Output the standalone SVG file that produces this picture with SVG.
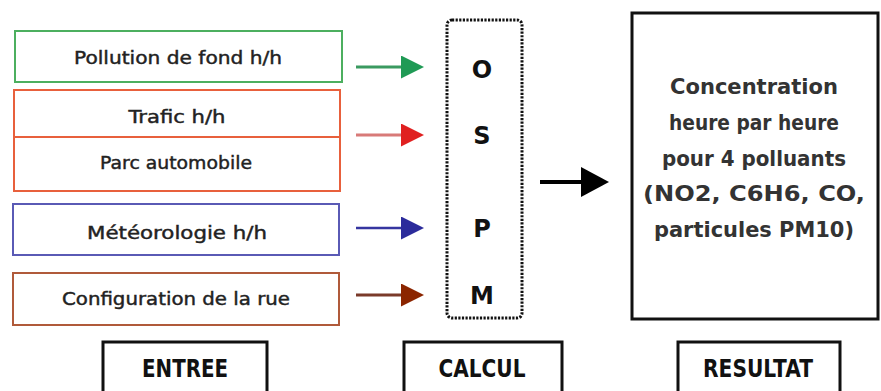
<svg xmlns="http://www.w3.org/2000/svg" width="881" height="391" viewBox="0 0 881 391">
<style>
.bg{fill:#ffffff}
.in{fill:#ffffff;stroke-width:2}
.t{font-family:"DejaVu Sans",sans-serif;font-size:18px;fill:#222;stroke:#222;stroke-width:0.45;text-anchor:middle}
.lbl{font-family:"DejaVu Sans",sans-serif;font-weight:bold;font-size:25px;fill:#111;text-anchor:middle}
.let{font-family:"DejaVu Sans",sans-serif;font-weight:bold;font-size:24px;fill:#111;text-anchor:middle}
.res{font-family:"DejaVu Sans",sans-serif;font-weight:bold;font-size:21px;fill:#333;text-anchor:middle}
.box{fill:#ffffff;stroke:#111;stroke-width:3}
</style>
<defs>
<marker id="hg" viewBox="0 0 10 10" refX="0" refY="5" markerWidth="23" markerHeight="23" markerUnits="userSpaceOnUse" orient="auto"><path d="M0,0 L10,5 L0,10 z" fill="#1f9a55"/></marker>
<marker id="hr" viewBox="0 0 10 10" refX="0" refY="5" markerWidth="23" markerHeight="23" markerUnits="userSpaceOnUse" orient="auto"><path d="M0,0 L10,5 L0,10 z" fill="#e02020"/></marker>
<marker id="hb" viewBox="0 0 10 10" refX="0" refY="5" markerWidth="23" markerHeight="23" markerUnits="userSpaceOnUse" orient="auto"><path d="M0,0 L10,5 L0,10 z" fill="#2b2b9b"/></marker>
<marker id="hn" viewBox="0 0 10 10" refX="0" refY="5" markerWidth="23" markerHeight="23" markerUnits="userSpaceOnUse" orient="auto"><path d="M0,0 L10,5 L0,10 z" fill="#8b2500"/></marker>
<marker id="hk" viewBox="0 0 10 10" refX="0" refY="5" markerWidth="28" markerHeight="30" markerUnits="userSpaceOnUse" orient="auto" preserveAspectRatio="none"><path d="M0,0 L10,5 L0,10 z" fill="#000"/></marker>
</defs>
<rect class="bg" x="0" y="0" width="881" height="391"/>

<g id="pollution">
<rect class="in" x="15" y="31" width="327" height="51" stroke="#4caf5f"/>
<text class="t" x="178" y="64" textLength="208" lengthAdjust="spacingAndGlyphs">Pollution  de fond h/h</text>
</g>
<g id="trafic">
<rect class="in" x="14" y="90" width="326" height="101" stroke="#e8603c"/>
<line x1="14" y1="137" x2="340" y2="137" stroke="#e8603c" stroke-width="2"/>
<text class="t" x="177" y="123" textLength="97" lengthAdjust="spacingAndGlyphs">Trafic h/h</text>
<text class="t" x="176" y="169" textLength="152" lengthAdjust="spacingAndGlyphs">Parc automobile</text>
</g>
<g id="meteo">
<rect class="in" x="13" y="204" width="326" height="51" stroke="#5a5ab5"/>
<text class="t" x="177" y="239" textLength="180" lengthAdjust="spacingAndGlyphs">Météorologie  h/h</text>
</g>
<g id="config">
<rect class="in" x="13" y="273" width="326" height="52" stroke="#b05a3a"/>
<text class="t" x="176" y="305" textLength="228" lengthAdjust="spacingAndGlyphs">Configuration  de la rue</text>
</g>

<g id="osrm">
<rect x="447" y="20" width="75" height="298" rx="5" fill="none" stroke="#111" stroke-width="3" stroke-dasharray="2.2,1.4"/>
<text class="let" x="482" y="78">O</text>
<text class="let" x="482" y="144">S</text>
<text class="let" x="482" y="237">P</text>
<text class="let" x="482" y="304">M</text>
</g>

<g id="resultat">
<rect x="632" y="13" width="246" height="306" fill="#fff" stroke="#111" stroke-width="3"/>
<text class="res" x="754" y="94" textLength="168" lengthAdjust="spacingAndGlyphs">Concentration</text>
<text class="res" x="754" y="130" textLength="170" lengthAdjust="spacingAndGlyphs">heure par heure</text>
<text class="res" x="754" y="166" textLength="184" lengthAdjust="spacingAndGlyphs">pour 4 polluants</text>
<text class="res" x="754" y="201" textLength="222" lengthAdjust="spacingAndGlyphs">(NO2, C6H6, CO,</text>
<text class="res" x="754" y="237" textLength="200" lengthAdjust="spacingAndGlyphs">particules PM10)</text>
</g>

<g id="entree">
<rect class="box" x="103" y="342" width="164" height="60"/>
<text class="lbl" x="185" y="377" textLength="86" lengthAdjust="spacingAndGlyphs">ENTREE</text>
</g>
<g id="calcul">
<rect class="box" x="404" y="342" width="158" height="60"/>
<text class="lbl" x="482" y="377" textLength="87" lengthAdjust="spacingAndGlyphs">CALCUL</text>
</g>
<g id="resultat-label">
<rect class="box" x="678" y="342" width="162" height="60"/>
<text class="lbl" x="758" y="377" textLength="110" lengthAdjust="spacingAndGlyphs">RESULTAT</text>
</g>

<g id="connectors">
<line x1="356" y1="67" x2="401" y2="67" stroke="#3a9a60" stroke-width="3" marker-end="url(#hg)"/>
<line x1="356" y1="135" x2="401" y2="135" stroke="#d87a78" stroke-width="3" marker-end="url(#hr)"/>
<line x1="356" y1="228" x2="401" y2="228" stroke="#3535a0" stroke-width="2.5" marker-end="url(#hb)"/>
<line x1="356" y1="295" x2="401" y2="295" stroke="#7a3a2a" stroke-width="3" marker-end="url(#hn)"/>
<line x1="540" y1="182" x2="581" y2="182" stroke="#000" stroke-width="4" marker-end="url(#hk)"/>
</g>
</svg>
